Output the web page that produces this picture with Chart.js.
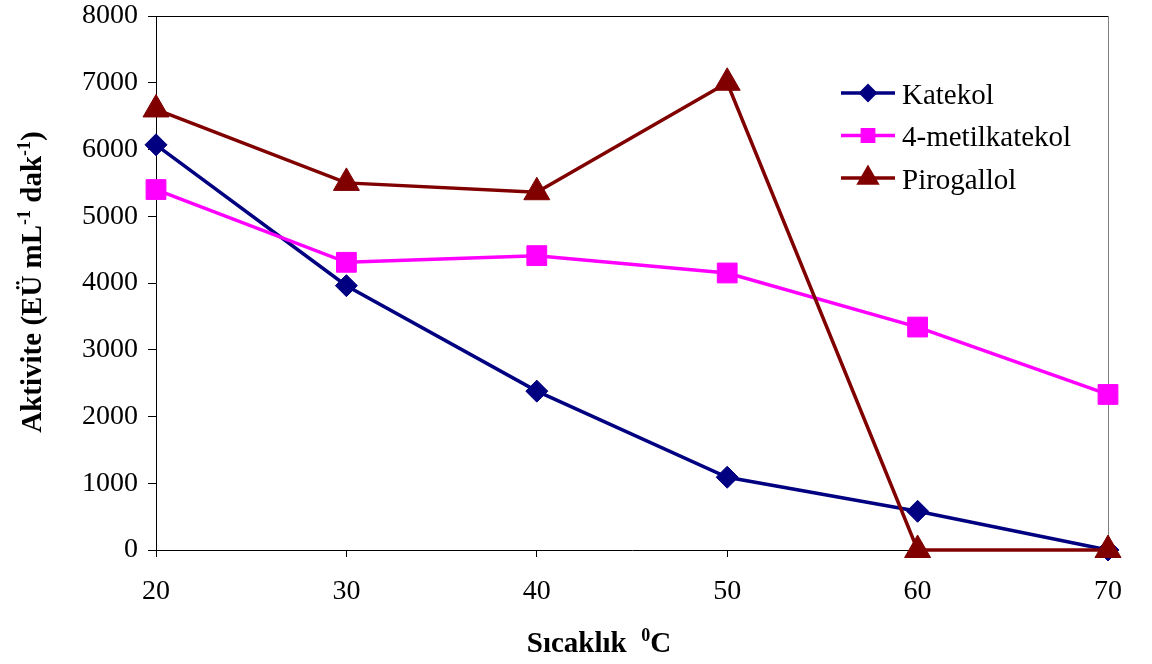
<!DOCTYPE html>
<html>
<head>
<meta charset="utf-8">
<title>Aktivite - Sıcaklık</title>
<script src="https://cdn.jsdelivr.net/npm/chart.js@4.4.1/dist/chart.umd.min.js"></script>
<style>
  html, body { margin: 0; padding: 0; background: #fff; }
  canvas { display: block; }
</style>
</head>
<body>
<canvas id="activityChart" width="1152" height="664"></canvas>
<script>
// temperatures (°C) and activities (EÜ mL-1 dak-1)
const temperatures = ['20', '30', '40', '50', '60', '70'];
const katekol = [6070, 3960, 2380, 1090, 580, 0];
const metilkatekol = [5400, 4310, 4410, 4150, 3340, 2330];
const pirogallol = [6600, 5500, 5360, 7000, 0, 0];

const seriesNames = ['Katekol', '4-metilkatekol', 'Pirogallol'];
const yMin = 0;
const yMax = 8000;
const yStep = 1000;

// axis titles, split into normal / superscript pieces
const yTitle = [
  { text: 'Aktivite (EÜ mL' }, { text: '-1', sup: true },
  { text: ' dak' }, { text: '-1', sup: true }, { text: ')' }
];
const xTitle = [
  { text: 'Sıcaklık  ' }, { text: '0', sup: true }, { text: 'C' }
];

const FONT = "'Liberation Serif', 'Times New Roman', serif";
const NAVY = '#000080';
const MAGENTA = '#FF00FF';
const MAROON = '#800000';

function measureRich(ctx, parts, size) {
  let w = 0;
  parts.forEach(p => {
    ctx.font = 'bold ' + (p.sup ? Math.round(size * 0.62) : size) + 'px ' + FONT;
    w += ctx.measureText(p.text).width;
  });
  return w;
}

function drawRich(ctx, parts, size, cx, cy) {
  const total = measureRich(ctx, parts, size);
  let x = cx - total / 2;
  ctx.textBaseline = 'alphabetic';
  ctx.textAlign = 'left';
  parts.forEach(p => {
    const s = p.sup ? Math.round(size * 0.62) : size;
    ctx.font = 'bold ' + s + 'px ' + FONT;
    ctx.fillText(p.text, x, p.sup ? cy - size * 0.38 : cy);
    x += ctx.measureText(p.text).width;
  });
}

const framePlugin = {
  id: 'frame',
  beforeDatasetsDraw(chart) {
    const { ctx, chartArea: a } = chart;
    ctx.save();
    ctx.lineWidth = 1;
    ctx.strokeStyle = '#000';
    ctx.beginPath();
    ctx.moveTo(a.left, a.top + 0.5);
    ctx.lineTo(a.right, a.top + 0.5);
    ctx.stroke();
    ctx.strokeStyle = '#808080';
    ctx.beginPath();
    ctx.moveTo(a.right + 0.5, a.top);
    ctx.lineTo(a.right + 0.5, a.bottom);
    ctx.stroke();
    ctx.restore();
  },
  afterDraw(chart) {
    const { ctx, chartArea: a } = chart;
    ctx.save();
    ctx.fillStyle = '#000';

    // y title, rotated
    ctx.save();
    ctx.translate(41, (a.top + a.bottom) / 2 - 1);
    ctx.rotate(-Math.PI / 2);
    drawRich(ctx, yTitle, 29, 0, 0);
    ctx.restore();

    // x title
    drawRich(ctx, xTitle, 29, 599, 652);

    // legend inside the plot area
    const lx = a.right - 267;
    let ly = a.top + 77;
    chart.data.datasets.forEach(ds => {
      ctx.strokeStyle = ds.borderColor;
      ctx.fillStyle = ds.borderColor;
      ctx.lineWidth = 3.5;
      ctx.beginPath();
      ctx.moveTo(lx, ly);
      ctx.lineTo(lx + 54, ly);
      ctx.stroke();
      Chart.helpers.drawPoint(ctx, {
        pointStyle: ds.pointStyle,
        radius: ds.legendRadius,
        rotation: 0,
        borderWidth: 1
      }, lx + 27, ly);
      ctx.fillStyle = '#000';
      ctx.font = '29px ' + FONT;
      ctx.textAlign = 'left';
      ctx.textBaseline = 'middle';
      ctx.fillText(ds.label, lx + 61, ly + 3);
      ly += 42.5;
    });
    ctx.restore();
  }
};

const ctx = document.getElementById('activityChart').getContext('2d');
new Chart(ctx, {
  type: 'line',
  data: {
    labels: temperatures,
    datasets: [
      {
        label: seriesNames[0],
        data: katekol,
        borderColor: NAVY,
        backgroundColor: NAVY,
        pointStyle: 'rectRot',
        pointRadius: 11,
        legendRadius: 7,
        clip: false,
        order: 3
      },
      {
        label: seriesNames[1],
        data: metilkatekol,
        borderColor: MAGENTA,
        backgroundColor: MAGENTA,
        pointStyle: 'rect',
        pointRadius: 14,
        legendRadius: 8,
        clip: false,
        order: 2
      },
      {
        label: seriesNames[2],
        data: pirogallol,
        borderColor: MAROON,
        backgroundColor: MAROON,
        pointStyle: 'triangle',
        pointRadius: 15,
        legendRadius: 10,
        clip: false,
        order: 1
      }
    ]
  },
  options: {
    responsive: false,
    animation: false,
    layout: { padding: { top: 14, right: 44, left: 0, bottom: 0 } },
    elements: {
      line: { borderWidth: 3.5, tension: 0, fill: false },
      point: { borderWidth: 1, hoverRadius: 11 }
    },
    plugins: {
      legend: { display: false },
      tooltip: { enabled: false }
    },
    scales: {
      x: {
        type: 'category',
        offset: false,
        afterFit: scale => {
          scale.height = 114;
          scale.paddingLeft = 0;
          scale.paddingRight = 0;
        },
        grid: {
          drawOnChartArea: false,
          drawTicks: true,
          tickLength: 7,
          color: '#000'
        },
        border: { display: true, color: '#000', width: 1 },
        ticks: {
          color: '#000',
          font: { family: FONT, size: 28 },
          padding: 18,
          maxRotation: 0
        }
      },
      y: {
        min: yMin,
        max: yMax,
        afterFit: scale => {
          scale.width = 156;
          scale.paddingTop = 0;
          scale.paddingBottom = 0;
        },
        grid: {
          drawOnChartArea: false,
          drawTicks: true,
          tickLength: 8,
          color: '#000'
        },
        border: { display: true, color: '#000', width: 1 },
        ticks: {
          stepSize: yStep,
          color: '#000',
          font: { family: FONT, size: 28 },
          padding: 10,
          callback: v => String(v)
        }
      }
    }
  },
  plugins: [framePlugin]
});
</script>
</body>
</html>
